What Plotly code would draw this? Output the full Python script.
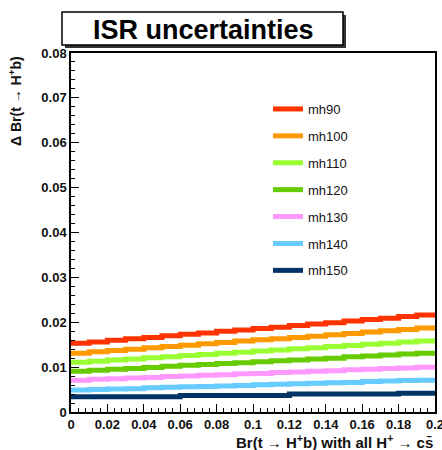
import plotly.graph_objects as go

# Bin edges of Br(t -> H+ b), 20 bins of width 0.01
bin_edges = [0.00, 0.01, 0.02, 0.03, 0.04, 0.05, 0.06, 0.07, 0.08, 0.09, 0.10,
             0.11, 0.12, 0.13, 0.14, 0.15, 0.16, 0.17, 0.18, 0.19, 0.20]

# ISR uncertainty per bin for each charged-Higgs mass hypothesis
mh90 = [0.0153, 0.0156, 0.0160, 0.0163, 0.0166, 0.0170, 0.0173, 0.0176, 0.0180, 0.0183,
        0.0186, 0.0189, 0.0193, 0.0196, 0.0199, 0.0203, 0.0206, 0.0209, 0.0213, 0.0216]
mh100 = [0.0131, 0.0134, 0.0137, 0.0140, 0.0143, 0.0146, 0.0149, 0.0152, 0.0155, 0.0158,
         0.0161, 0.0163, 0.0166, 0.0169, 0.0172, 0.0175, 0.0178, 0.0181, 0.0184, 0.0187]
mh110 = [0.0111, 0.0113, 0.0116, 0.0118, 0.0121, 0.0123, 0.0126, 0.0128, 0.0131, 0.0133,
         0.0136, 0.0138, 0.0141, 0.0143, 0.0146, 0.0148, 0.0151, 0.0153, 0.0156, 0.0158]
mh120 = [0.0091, 0.0093, 0.0095, 0.0097, 0.0099, 0.0102, 0.0104, 0.0106, 0.0108, 0.0110,
         0.0112, 0.0114, 0.0116, 0.0118, 0.0120, 0.0123, 0.0125, 0.0127, 0.0129, 0.0131]
mh130 = [0.0071, 0.0073, 0.0074, 0.0076, 0.0077, 0.0079, 0.0080, 0.0082, 0.0083, 0.0085,
         0.0086, 0.0088, 0.0089, 0.0091, 0.0092, 0.0094, 0.0095, 0.0097, 0.0098, 0.0100]
mh140 = [0.0049, 0.0050, 0.0051, 0.0052, 0.0054, 0.0055, 0.0056, 0.0057, 0.0058, 0.0059,
         0.0061, 0.0062, 0.0063, 0.0064, 0.0065, 0.0066, 0.0068, 0.0069, 0.0070, 0.0071]
mh150 = [0.0034, 0.0034, 0.0034, 0.0034, 0.0034, 0.0034, 0.0037, 0.0037, 0.0037, 0.0037,
         0.0037, 0.0037, 0.0040, 0.0040, 0.0040, 0.0040, 0.0040, 0.0040, 0.0042, 0.0042]

series_names = ["mh90", "mh100", "mh110", "mh120", "mh130", "mh140", "mh150"]
series_values = [mh90, mh100, mh110, mh120, mh130, mh140, mh150]
series_colors = ["#FF3300", "#FF9900", "#99FF33", "#66CC00", "#FF99FF", "#66CCFF", "#003366"]

x_ticks = [0, 0.02, 0.04, 0.06, 0.08, 0.1, 0.12, 0.14, 0.16, 0.18, 0.2]
x_ticklabels = ["0", "0.02", "0.04", "0.06", "0.08", "0.1", "0.12", "0.14", "0.16", "0.18", "0.2"]
y_ticks = [0, 0.01, 0.02, 0.03, 0.04, 0.05, 0.06, 0.07, 0.08]
y_ticklabels = ["0", "0.01", "0.02", "0.03", "0.04", "0.05", "0.06", "0.07", "0.08"]

FONT = "Liberation Sans, Arial, Helvetica, sans-serif"

# plot-area placement in pixels
L, R, T, B = 71, 435, 53, 412
W, H = R - L, B - T

fig = go.Figure()
for name, vals, color in zip(series_names, series_values, series_colors):
    # step histogram: each bin content held flat across its bin
    fig.add_trace(go.Scatter(
        x=bin_edges, y=vals + [vals[-1]],
        mode="lines", line=dict(color=color, width=5, shape="hv"),
        name=name, legendgroup=name,
    ))

axis_common = dict(
    showgrid=False, zeroline=False, showline=True, linecolor="black", linewidth=1.5,
    mirror=True, ticks="inside", ticklen=8, tickwidth=1.2, tickcolor="black",
    tickfont=dict(family=FONT, size=13, color="#111", weight="bold"),
    automargin=False, ticklabeloverflow="allow",
)

fig.update_xaxes(range=[0, 0.2], tickvals=x_ticks, ticktext=x_ticklabels,
                 minor=dict(ticks="inside", ticklen=4, dtick=0.004, tickcolor="black", tickwidth=1),
                 **axis_common)
fig.update_yaxes(range=[0, 0.08], tickvals=y_ticks, ticktext=y_ticklabels,
                 minor=dict(ticks="inside", ticklen=4, dtick=0.002, tickcolor="black", tickwidth=1),
                 **axis_common)


def px_x(p):
    return (p - L) / W


def px_y(p):
    return (B - p) / H


# title box with drop shadow
fig.add_shape(type="rect", xref="paper", yref="paper",
              x0=px_x(65), x1=px_x(346), y0=px_y(48), y1=px_y(15),
              fillcolor="#333", line=dict(width=0), layer="above")
fig.add_shape(type="rect", xref="paper", yref="paper",
              x0=px_x(62), x1=px_x(343), y0=px_y(45), y1=px_y(12),
              fillcolor="white", line=dict(color="black", width=1.5), layer="above")
fig.add_annotation(xref="paper", yref="paper", x=px_x(203), y=px_y(30),
                   text="<b>ISR uncertainties</b>", showarrow=False,
                   font=dict(family=FONT, size=27, color="black"),
                   xanchor="center", yanchor="middle")

# axis titles
fig.add_annotation(xref="paper", yref="paper", x=1, y=px_y(441),
                   text="<b>Br(t \u2192 H<sup>+</sup>b) with all H<sup>+</sup> \u2192 cs\u0304</b>",
                   showarrow=False, xanchor="right", yanchor="middle",
                   font=dict(family=FONT, size=15, color="#111"))
fig.add_annotation(xref="paper", yref="paper", x=px_x(15), y=px_y(54),
                   text="<b>\u0394 Br(t \u2192 H<sup>+</sup>b)</b>",
                   textangle=-90, showarrow=False, xanchor="center", yanchor="top",
                   font=dict(family=FONT, size=14, color="#111"))

fig.update_layout(
    width=442, height=450,
    margin=dict(l=L, r=442 - R, t=T, b=450 - B),
    paper_bgcolor="white", plot_bgcolor="white",
    showlegend=True,
    legend=dict(x=px_x(268), y=px_y(94), xanchor="left", yanchor="top",
                bgcolor="rgba(0,0,0,0)", borderwidth=0, tracegroupgap=7,
                font=dict(family=FONT, size=13, color="#111"), itemwidth=30),
)

fig.write_html("out.html")
